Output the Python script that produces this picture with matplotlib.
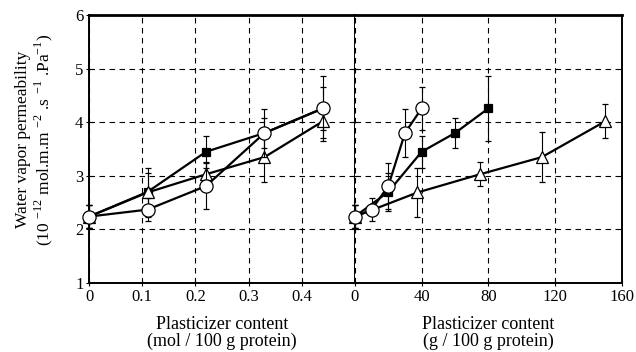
import matplotlib
matplotlib.use("Agg")
import matplotlib.pyplot as plt

plt.rcParams["font.family"] = ["Liberation Serif", "DejaVu Serif"]
plt.rcParams["mathtext.fontset"] = "custom"
plt.rcParams["mathtext.rm"] = "Liberation Serif"

# ── data ──────────────────────────────────────────────────
# open circles
circ_mol = [0, 0.11, 0.22, 0.33, 0.44]
circ_g = [0, 10, 20, 30, 40]
circ_y = [2.24, 2.37, 2.81, 3.80, 4.26]
circ_err = [0.22, 0.21, 0.43, 0.45, 0.40]

# filled squares
sq_mol = [0, 0.11, 0.22, 0.33, 0.44]
sq_g = [0, 20, 40, 60, 80]
sq_y = [2.24, 2.70, 3.45, 3.80, 4.26]
sq_err = [0.22, 0.35, 0.30, 0.28, 0.60]

# open triangles
tri_mol = [0, 0.11, 0.22, 0.33, 0.44]
tri_g = [0, 37.5, 75, 112, 150]
tri_y = [2.24, 2.69, 3.03, 3.35, 4.02]
tri_err = [0.22, 0.46, 0.22, 0.47, 0.32]

mol_ticks = [0, 0.1, 0.2, 0.3, 0.4]
mol_ticklabels = ["0", "0.1", "0.2", "0.3", "0.4"]
g_ticks = [0, 40, 80, 120, 160]
y_ticks = [1, 2, 3, 4, 5, 6]

fig = plt.figure(figsize=(6.36, 3.52), dpi=100)
ax1 = fig.add_axes([0.140, 0.196, 0.418, 0.761])
ax2 = fig.add_axes([0.558, 0.196, 0.420, 0.761])

series = [
    (circ_mol, circ_g, circ_y, circ_err, dict(marker="o", mfc="white", ms=9.5, zorder=5)),
    (tri_mol, tri_g, tri_y, tri_err, dict(marker="^", mfc="white", ms=8.5, zorder=4)),
    (sq_mol, sq_g, sq_y, sq_err, dict(marker="s", mfc="black", ms=6, zorder=3)),
]

for xm, xg, y, e, st in series:
    for ax, x in ((ax1, xm), (ax2, xg)):
        ax.errorbar(x, y, yerr=e, color="black", lw=1.6, mec="black", mew=0.9,
                    elinewidth=0.8, capsize=2, capthick=0.8, clip_on=False, **st)

for ax in (ax1, ax2):
    ax.set_ylim(1, 6)
    ax.set_yticks(y_ticks)
    ax.grid(True, color="black", linestyle=(0, (5, 4)), linewidth=0.8)
    for s in ax.spines.values():
        s.set_linewidth(1.4)
    ax.spines["top"].set_linewidth(2)
    ax.tick_params(direction="inout", length=4, width=0.8, labelsize=12, pad=2)

ax1.set_xlim(0, 0.5)
ax1.set_xticks(mol_ticks)
ax1.set_xticklabels(mol_ticklabels)
ax1.set_xlabel("Plasticizer content\n(mol / 100 g protein)", fontsize=13, labelpad=8,
               linespacing=1.0)
ax1.set_ylabel("Water vapor permeability\n"
               r"(10 $^{-12}$ mol.m.m $^{-2}$ .s $^{-1}$ .Pa$^{-1}$)", fontsize=12.5,
               linespacing=1.1)
ax1.yaxis.set_label_coords(-0.127, 0.535)

ax2.set_xlim(0, 160)
ax2.set_xticks(g_ticks)
ax2.tick_params(labelleft=False)
ax2.spines["left"].set_visible(False)
ax2.set_xlabel("Plasticizer content\n(g / 100 g protein)", fontsize=13, labelpad=8,
               linespacing=1.0)

fig.savefig("out.png", dpi=100)
